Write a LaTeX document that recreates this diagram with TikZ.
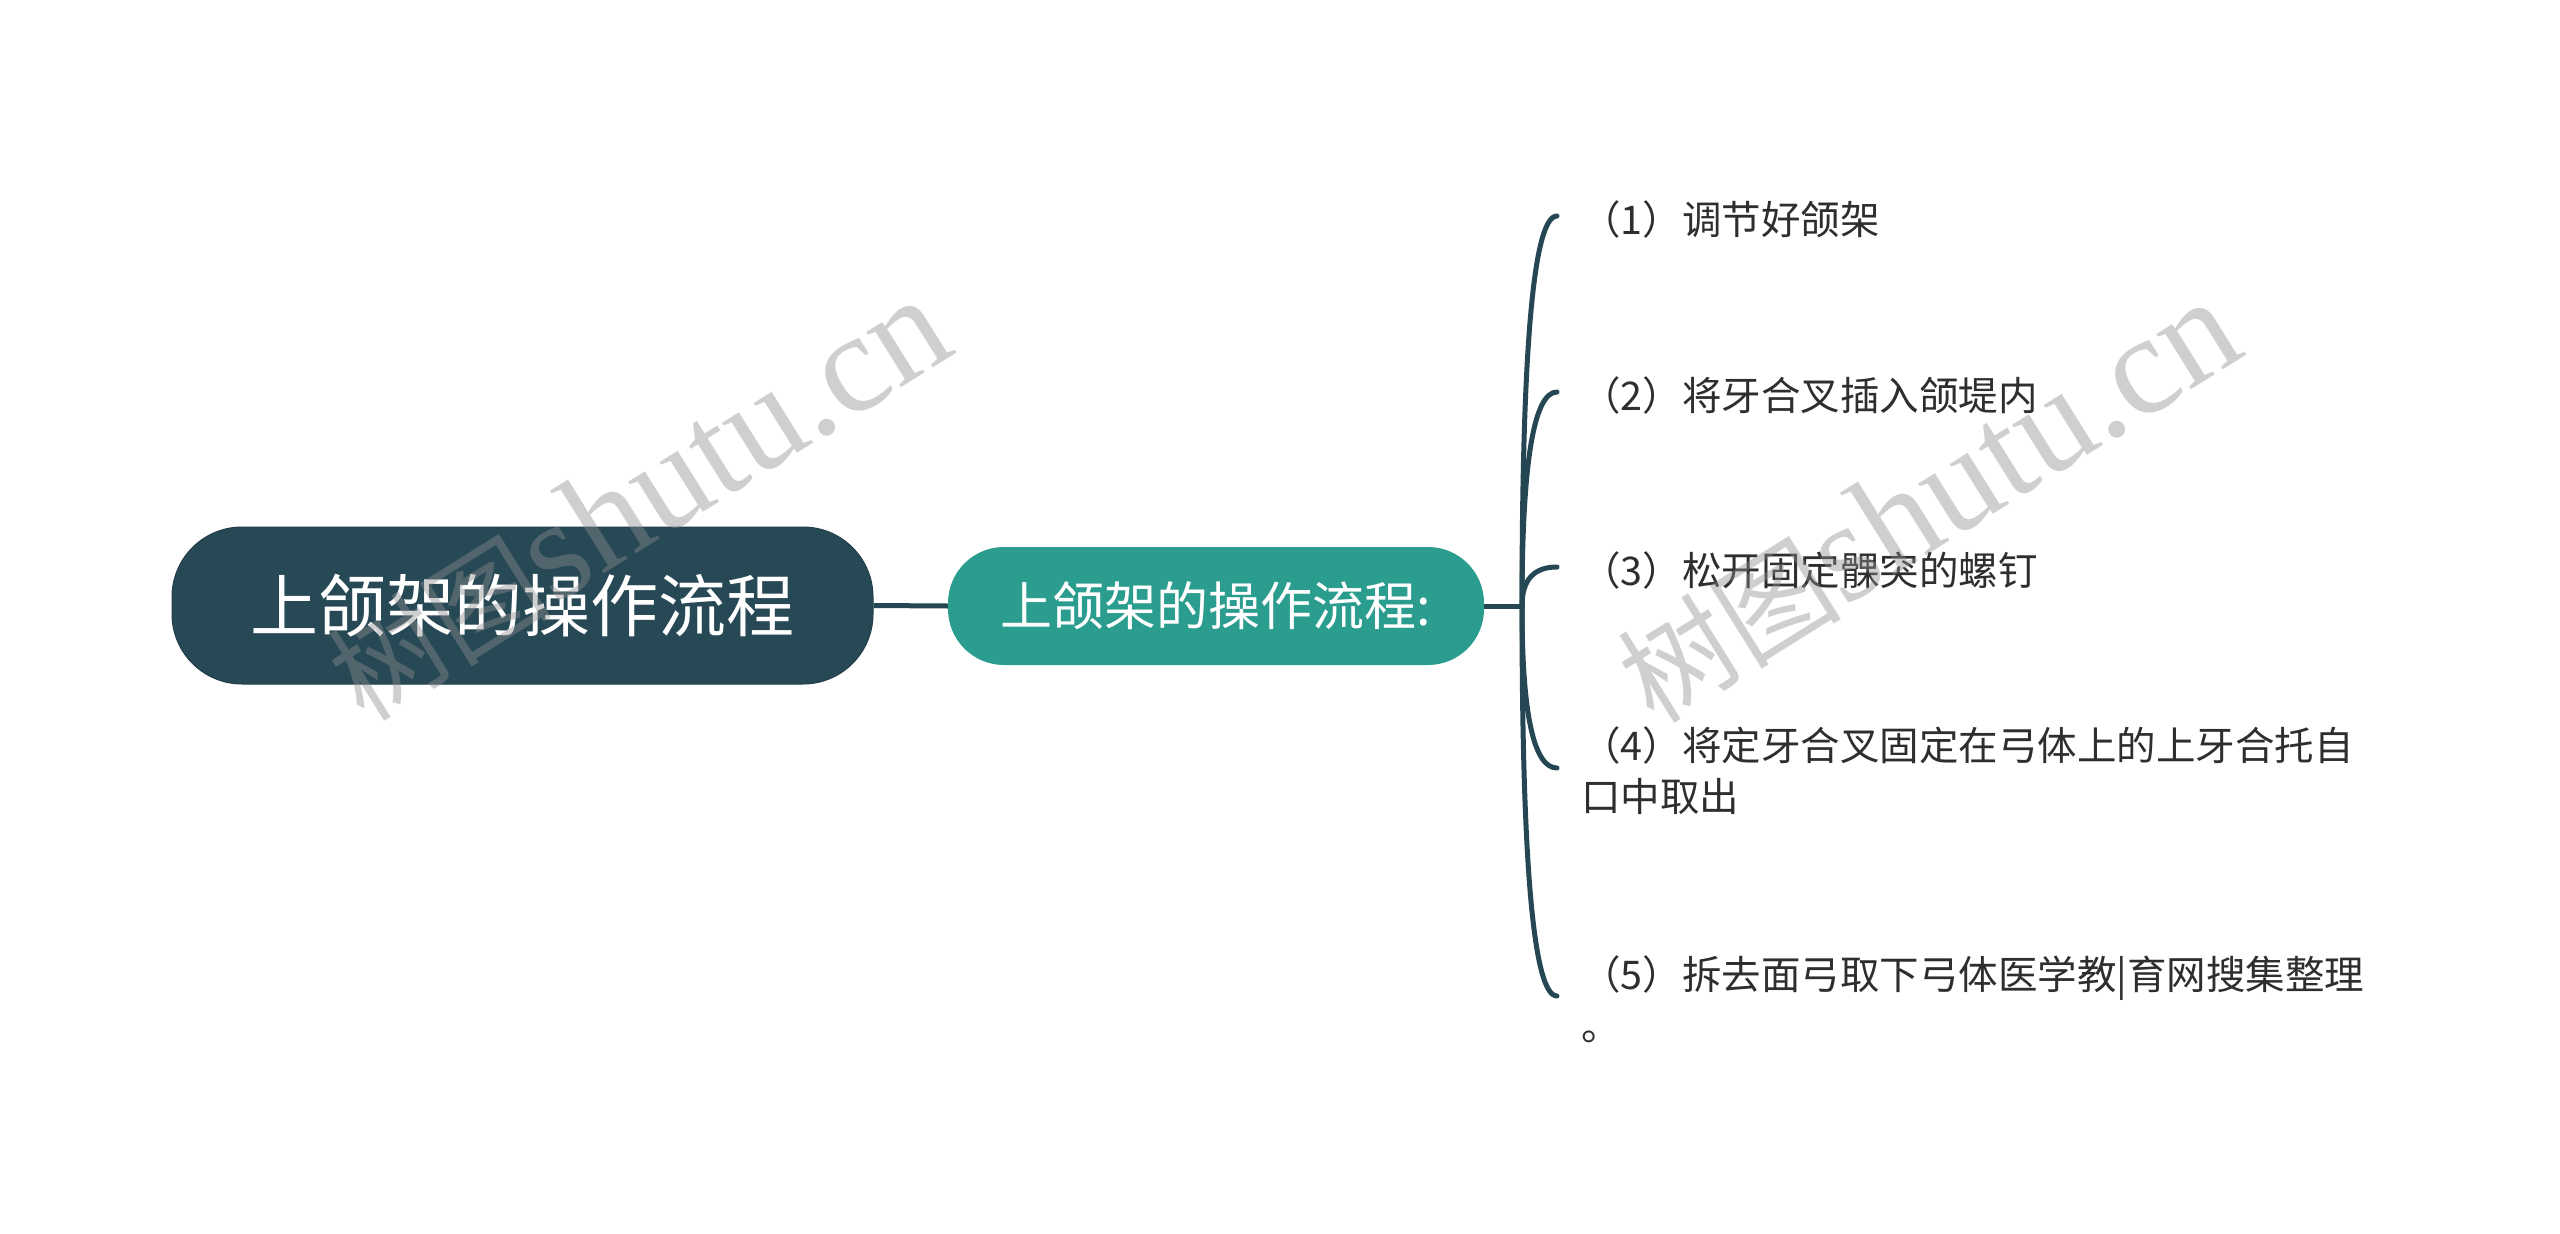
\documentclass[tikz,border=0pt]{standalone}
\usepackage{fontspec}
\usetikzlibrary{calc}
\newfontfamily\cjk{Noto Sans CJK SC}
\newfontfamily\wmlatin{Liberation Serif}
\definecolor{rootc}{HTML}{274956}
\definecolor{subc}{HTML}{2A9D8F}
\definecolor{linec}{HTML}{254653}
\definecolor{txtc}{HTML}{2E2E2E}
\definecolor{wmc}{HTML}{8E8E8E}
\tikzset{
  rootbox/.style={fill=rootc, draw=rootc!85!black, line width=1pt, rounded corners=70pt,
    minimum width=701pt, minimum height=157pt, inner sep=0pt, text=white,
    font=\cjk\fontsize{68}{80}\selectfont},
  subbox/.style={fill=subc, draw=none, rounded corners=56pt,
    minimum width=536pt, minimum height=118pt, inner sep=0pt, text=white,
    font=\cjk\fontsize{52}{62}\selectfont},
  itembox/.style={anchor=west, inner sep=0pt, align=left, text=txtc,
    font=\cjk\fontsize{39.5}{51}\selectfont},
  conn/.style={draw=linec, line width=5pt, line cap=round},
  wmark/.style={text=wmc, text opacity=0.42, rotate=32, inner sep=0pt},
}
\newcommand{\wmtext}{{\cjk\fontsize{112}{120}\selectfont 树图}{\wmlatin\fontsize{142}{150}\selectfont shutu.cn}}
\begin{document}
\begin{tikzpicture}[x=1pt, y=-1pt]
\useasboundingbox (0,0) rectangle (2560,1234);
\fill[white] (0,0) rectangle (2560,1234);

\node[rootbox] (root) at (522.5,605.5) {上颌架的操作流程};
\node[subbox] (sub) at (1216,606) {上颌架的操作流程:};

\node[itembox] (i1) at (1581,219) {（1）调节好颌架};
\node[itembox] (i2) at (1581,395) {（2）将牙合叉插入颌堤内};
\node[itembox] (i3) at (1581,570) {（3）松开固定髁突的螺钉};
\node[itembox] (i4) at (1581,771) {（4）将定牙合叉固定在弓体上的上牙合托自\\口中取出};
\node[itembox] (i5) at (1581,999) {（5）拆去面弓取下弓体医学教|育网搜集整理\\。};

\draw[conn, line cap=butt] (root.east) -- (sub.west);
\coordinate (j) at (1522,606);
\draw[conn, line cap=butt] (sub.east) -- (j);

\foreach \k in {1,...,5}{
  \coordinate (e\k) at ([xshift=-24pt,yshift=3pt]i\k.west);
  \coordinate (k\k) at (j |- e\k);
  \draw[conn] (j) .. controls ($(j)!0.6667!(k\k)$) and ($(e\k)!0.6667!(k\k)$) .. (e\k);
}

\node[wmark] (wm1) at (638,500) {\wmtext};
\node[wmark] (wm2) at (1928,502) {\wmtext};
\end{tikzpicture}
\end{document}
